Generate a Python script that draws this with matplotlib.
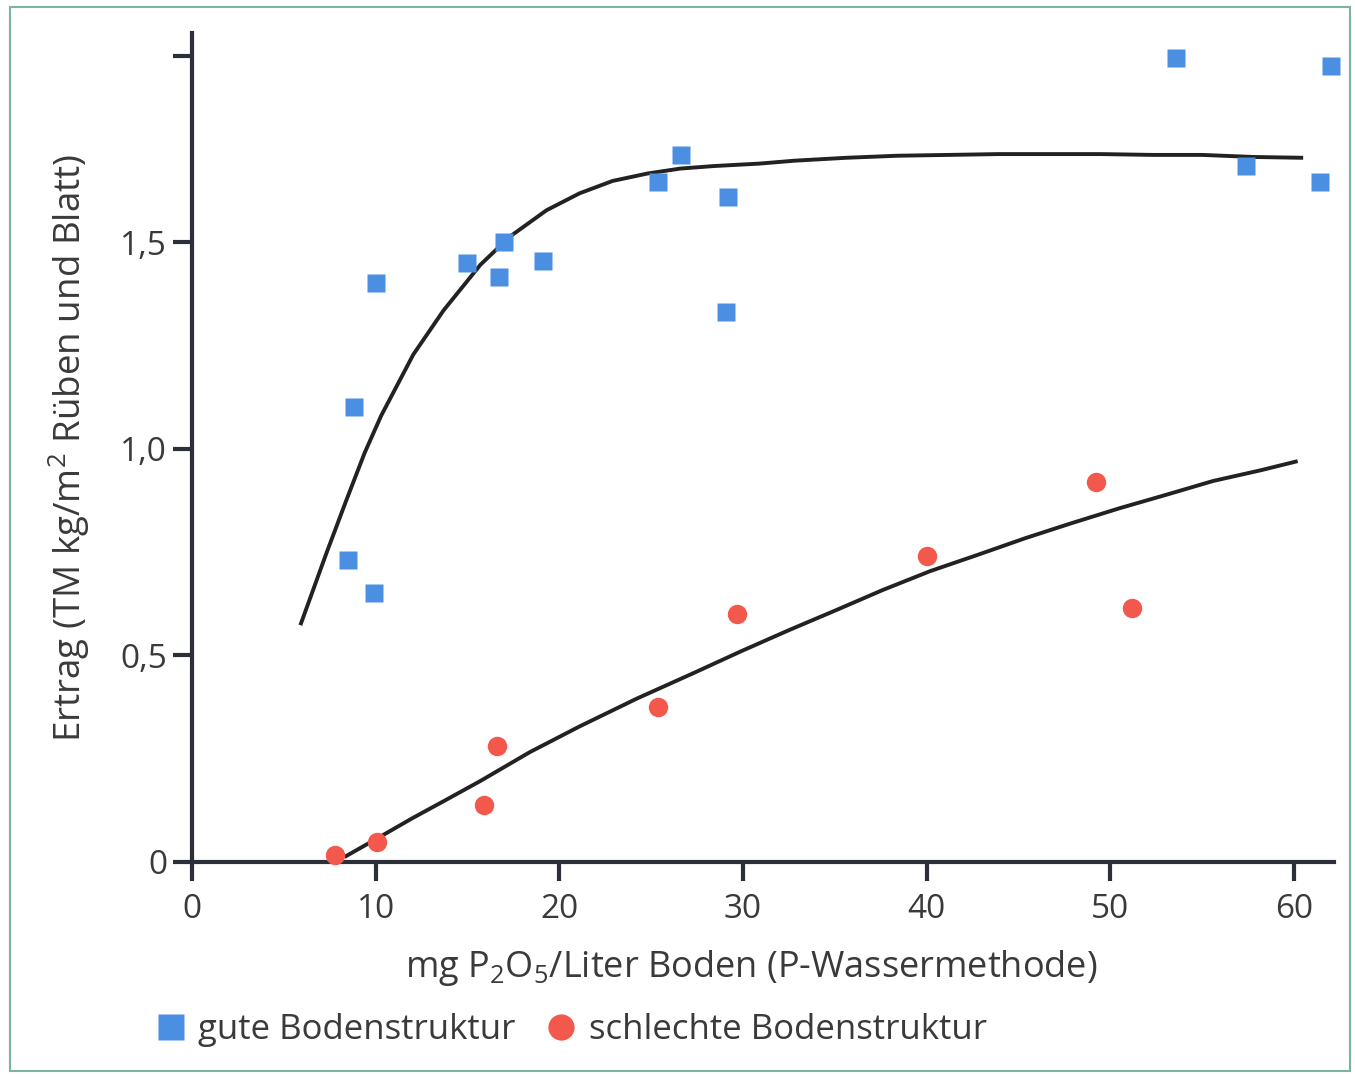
import matplotlib.pyplot as plt
from matplotlib.patches import Rectangle

# Messpunkte: gute Bodenstruktur (Quadrate)
gut_x = [8.5, 9.9, 8.8, 10.0, 15.0, 16.7, 17.0, 19.1, 25.4, 26.6, 29.2, 29.1, 53.6, 57.4, 61.4, 62.0]
gut_y = [0.73, 0.65, 1.10, 1.40, 1.45, 1.415, 1.50, 1.455, 1.645, 1.71, 1.61, 1.33, 1.945, 1.685, 1.645, 1.925]

# Messpunkte: schlechte Bodenstruktur (Kreise)
schlecht_x = [7.8, 10.1, 15.9, 16.6, 25.4, 29.7, 40.0, 49.2, 51.2]
schlecht_y = [0.017, 0.048, 0.138, 0.281, 0.375, 0.60, 0.74, 0.92, 0.615]

# Kurven
kurve_gut_x = [5.9, 7.3, 8.4, 9.4, 10.3, 12.05, 13.7, 15.7, 17.3, 19.3, 21.1, 22.9, 24.8, 26.6, 28.4,
               30.9, 32.8, 35.6, 38.4, 41.2, 43.9, 46.7, 49.5, 52.3, 55.0, 57.8, 60.5]
kurve_gut_y = [0.573, 0.745, 0.875, 0.99, 1.080, 1.228, 1.335, 1.445, 1.513, 1.577, 1.618, 1.648, 1.666, 1.678, 1.684,
               1.690, 1.697, 1.704, 1.709, 1.711, 1.713, 1.713, 1.713, 1.711, 1.711, 1.706, 1.704]

kurve_schlecht_x = [8.3, 10.2, 12.0, 13.9, 15.7, 18.4, 21.1, 24.2, 27.3, 29.9, 32.5, 35.1, 37.6, 40.2,
                    42.7, 45.4, 47.9, 50.5, 53.0, 55.6, 58.2, 60.2]
kurve_schlecht_y = [0.012, 0.060, 0.106, 0.152, 0.196, 0.266, 0.328, 0.395, 0.457, 0.510, 0.561, 0.610, 0.658, 0.704,
                    0.742, 0.784, 0.820, 0.856, 0.888, 0.922, 0.948, 0.970]

x_ticks = [0, 10, 20, 30, 40, 50, 60]
y_ticks = [0, 0.5, 1.0, 1.5, 1.95]
y_tick_labels = ['0', '0,5', '1,0', '1,5', '']

textfarbe = '#3a3a3a'
achsenfarbe = '#2b3038'
blau = '#4a8fe2'
rot = '#f2584c'

plt.rcParams['font.family'] = ['Open Sans', 'DejaVu Sans']
plt.rcParams['mathtext.default'] = 'regular'

fig = plt.figure(figsize=(13.55, 10.77), dpi=100)
ax = fig.add_axes([192 / 1355, 215 / 1077, 1142 / 1355, 829 / 1077])

for kx, ky in [(kurve_gut_x, kurve_gut_y), (kurve_schlecht_x, kurve_schlecht_y)]:
    ax.plot(kx, ky, color='#222222', lw=2.8, solid_capstyle='butt', solid_joinstyle='round', zorder=2)

p1, = ax.plot(gut_x, gut_y, 's', color=blau, ms=13.5, mec='none', clip_on=False, zorder=3)
p2, = ax.plot(schlecht_x, schlecht_y, 'o', color=rot, ms=14, mec='none', clip_on=False, zorder=3)

ax.set_xlim(0, 62.18)
ax.set_ylim(0, 2.006)

for s in ['top', 'right']:
    ax.spines[s].set_visible(False)
for s in ['left', 'bottom']:
    ax.spines[s].set_color(achsenfarbe)
    ax.spines[s].set_linewidth(3)

ax.set_xticks(x_ticks)
ax.set_xticklabels([str(v) for v in x_ticks])
ax.set_yticks(y_ticks)
ax.set_yticklabels(y_tick_labels)
ax.tick_params(axis='both', direction='out', length=14, width=3, color=achsenfarbe,
               labelcolor=textfarbe, labelsize=24)
ax.tick_params(axis='x', pad=8)
ax.tick_params(axis='y', pad=4)

ax.set_xlabel('mg P$_2$O$_5$/Liter Boden (P-Wassermethode)', fontsize=26, color=textfarbe)
ax.xaxis.set_label_coords(0.49, -0.104)
ax.set_ylabel('Ertrag (TM kg/m$^2$ Rüben und Blatt)', fontsize=26.5, color=textfarbe, labelpad=20)

fig.legend([p1, p2], ['gute Bodenstruktur', 'schlechte Bodenstruktur'], loc='center left',
           bbox_to_anchor=(129 / 1355, 47 / 1077), ncol=2, frameon=False, fontsize=25,
           handlelength=0.6, handletextpad=0.5, columnspacing=1.0, markerscale=1.35,
           labelcolor=textfarbe)

# dünner Rahmen wie im Scan
fig.patches.append(Rectangle((10 / 1355, 6 / 1077), 1340 / 1355, 1064 / 1077, transform=fig.transFigure,
                             fill=False, edgecolor='#7db59c', lw=1.5))

plt.savefig('out.png', dpi=100)
